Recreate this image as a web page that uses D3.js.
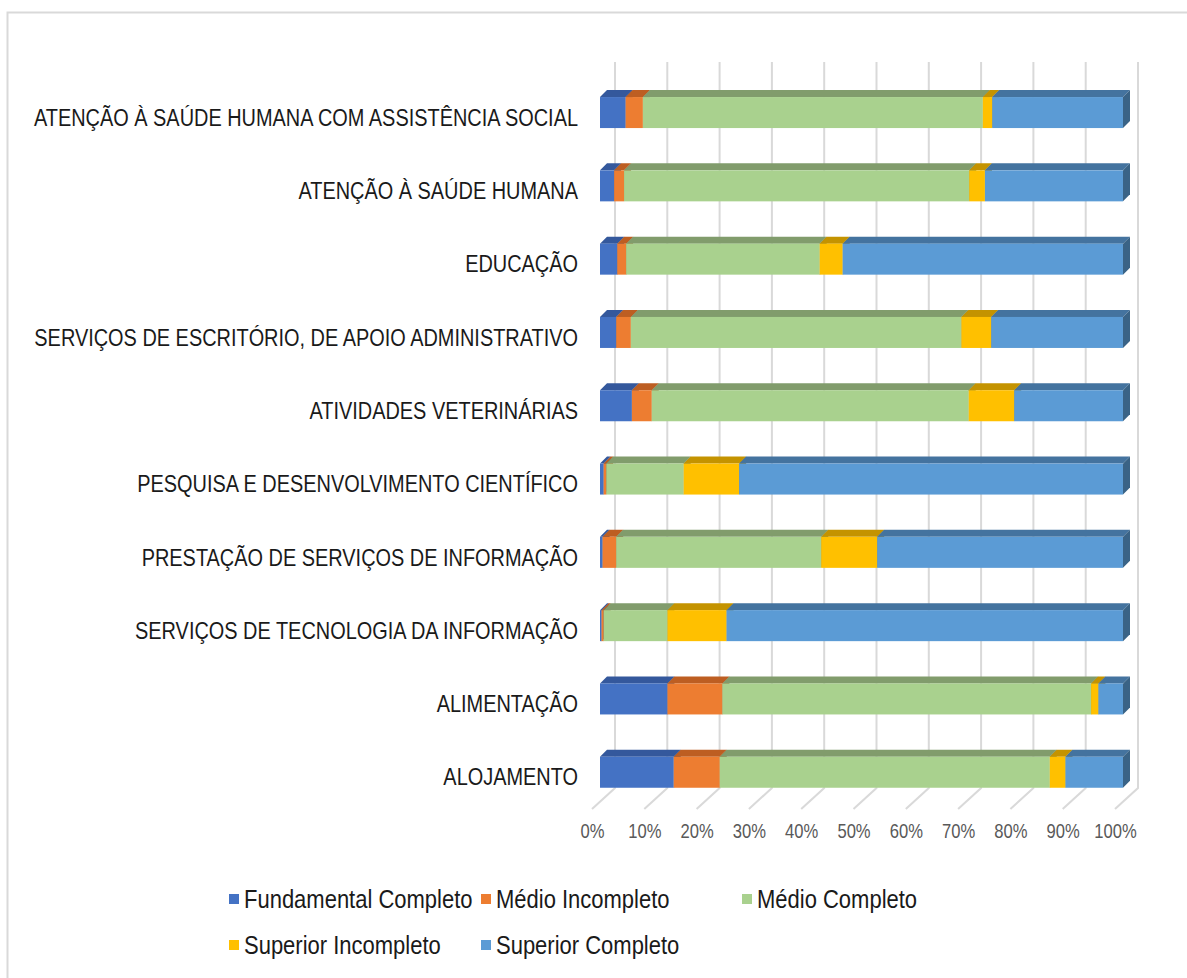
<!DOCTYPE html>
<html>
<head>
<meta charset="utf-8">
<script src="https://cdn.jsdelivr.net/npm/d3@7"></script>
<style>
    body { margin: 0; background: #ffffff; }
    svg { display: block; }
</style>
</head>
<body>
<div class="svg-container"></div>
<script>
let width = 1187;
let height = 978;

// categories, top to bottom
let categories = [
    "ATENÇÃO À SAÚDE HUMANA COM ASSISTÊNCIA SOCIAL",
    "ATENÇÃO À SAÚDE HUMANA",
    "EDUCAÇÃO",
    "SERVIÇOS DE ESCRITÓRIO, DE APOIO ADMINISTRATIVO ",
    "ATIVIDADES VETERINÁRIAS",
    "PESQUISA E DESENVOLVIMENTO CIENTÍFICO",
    "PRESTAÇÃO DE SERVIÇOS DE INFORMAÇÃO",
    "SERVIÇOS DE TECNOLOGIA DA INFORMAÇÃO",
    "ALIMENTAÇÃO",
    "ALOJAMENTO"
];

let seriesNames = [
    "Fundamental Completo",
    "Médio Incompleto",
    "Médio Completo",
    "Superior Incompleto",
    "Superior Completo"
];

// shares in percent, one value per category
let fundamentalCompleto = [4.9, 2.7, 3.3, 3.1, 6.1, 0.7, 0.5, 0.3, 12.9, 14.1];
let medioIncompleto     = [3.3, 1.9, 1.7, 2.8, 3.8, 0.5, 2.6, 0.4, 10.5, 8.8];
let medioCompleto       = [65.0, 66.0, 37.0, 63.2, 60.6, 14.8, 39.2, 12.2, 70.5, 63.1];
let superiorIncompleto  = [1.8, 3.0, 4.4, 5.7, 8.7, 10.6, 10.7, 11.3, 1.4, 3.0];
let superiorCompleto    = [25.0, 26.4, 53.6, 25.2, 20.8, 73.4, 47.0, 75.8, 4.7, 11.0];

let xTicks = [0, 10, 20, 30, 40, 50, 60, 70, 80, 90, 100];

let frontColors = ["#4472c4", "#ed7d31", "#a9d18e", "#ffc000", "#5b9bd5"];
let topColors   = ["#34589c", "#bd5e22", "#819c6c", "#c49300", "#44739f"];
let sideColors  = ["#2c4b85", "#a2501c", "#6e855c", "#a67c00", "#3a6386"];

let depth = 7;        // oblique offset of the bar tops and sides
let narrow = 0.83;    // no narrow font installed, so squeeze the text

let FONT = "'Liberation Sans', Arial, sans-serif";

/*************
 * DATA ROWS *
 *************/

function buildRows()
{
    let series = [fundamentalCompleto, medioIncompleto, medioCompleto, superiorIncompleto, superiorCompleto];
    return categories.map(function(c, i)
    {
        let row = {category: c};
        seriesNames.forEach(function(s, k) { row[s] = series[k][i]; });
        return row;
    });
}

/********
 * MAIN *
 ********/

function drawChart()
{
    let rows = buildRows();
    let stacked = d3.stack().keys(seriesNames)(rows);

    let svg = d3.select(".svg-container")
        .append("svg")
        .attr("width", width)
        .attr("height", height)
        .style("font-family", FONT);

    // chart frame (runs off the right and bottom of the picture)
    svg.append("rect")
        .attr("x", 7.5)
        .attr("y", 12.5)
        .attr("width", width + 20)
        .attr("height", height + 20)
        .attr("fill", "none")
        .attr("stroke", "#d9d9d9")
        .attr("stroke-width", 2);

    // front face of the bars, back wall and floor edge
    let x = d3.scaleLinear().domain([0, 100]).range([600, 1123]);
    let xWall = d3.scaleLinear().domain([0, 100]).range([615, 1138]);
    let xFloor = d3.scaleLinear().domain([0, 100]).range([592, 1115]);

    let y = d3.scaleBand()
        .domain(categories)
        .range([75.9, 808.9])
        .paddingInner(0.577)
        .paddingOuter(0.2885);

    let wallTop = 62;
    let wallBottom = 788;
    let floorFront = 809;

    // gridlines on the back wall and their floor diagonals
    let grid = svg.append("g").attr("class", "grid");
    grid.selectAll("path")
        .data(xTicks)
        .enter()
        .append("path")
        .attr("d", function(d)
        {
            return "M" + xWall(d) + "," + wallTop +
                   "L" + xWall(d) + "," + wallBottom +
                   "L" + xFloor(d) + "," + floorFront;
        })
        .attr("fill", "none")
        .attr("stroke", "#d9d9d9")
        .attr("stroke-width", 2);

    // percent axis along the floor
    let axis = svg.append("g")
        .attr("transform", "translate(0," + 831 + ")")
        .call(d3.axisBottom(xFloor)
            .tickValues(xTicks)
            .tickSize(0)
            .tickPadding(0)
            .tickFormat(function(d) { return d + "%"; }));

    axis.select(".domain").remove();
    axis.selectAll("text")
        .attr("fill", "#595959")
        .attr("y", 0)
        .attr("dy", null)
        .attr("dominant-baseline", "central")
        .attr("transform", "scale(" + narrow + ",1)")
        .style("font-size", "20px")
        .style("font-family", FONT);

    // category labels
    svg.append("g").attr("class", "labels")
        .selectAll("text")
        .data(categories)
        .enter()
        .append("text")
        .attr("transform", function(d)
        {
            return "translate(578," + (y(d) + y.bandwidth() / 2 + 5) + ") scale(" + narrow + ",1)";
        })
        .attr("text-anchor", "end")
        .attr("dominant-baseline", "central")
        .attr("fill", "#1a1a1a")
        .style("font-size", "24px")
        .text(function(d) { return d; });

    // 3d bar segments: top, right side and front of each piece
    let layers = svg.append("g").attr("class", "bars")
        .selectAll("g")
        .data(stacked)
        .enter()
        .append("g");

    let pieces = layers.selectAll("g")
        .data(function(s) { return s.map(function(p) { p.index = s.index; return p; }); })
        .enter()
        .append("g");

    pieces.append("path")
        .attr("d", function(p)
        {
            let x0 = x(p[0]), x1 = x(p[1]), t = y(p.data.category);
            return "M" + x0 + "," + t + "L" + (x0 + depth) + "," + (t - depth) +
                   "L" + (x1 + depth) + "," + (t - depth) + "L" + x1 + "," + t + "Z";
        })
        .attr("fill", function(p) { return topColors[p.index]; });

    pieces.append("path")
        .attr("d", function(p)
        {
            let x1 = x(p[1]), t = y(p.data.category), b = t + y.bandwidth();
            return "M" + x1 + "," + t + "L" + (x1 + depth) + "," + (t - depth) +
                   "L" + (x1 + depth) + "," + (b - depth) + "L" + x1 + "," + b + "Z";
        })
        .attr("fill", function(p) { return sideColors[p.index]; });

    pieces.append("rect")
        .attr("x", function(p) { return x(p[0]); })
        .attr("y", function(p) { return y(p.data.category); })
        .attr("width", function(p) { return x(p[1]) - x(p[0]); })
        .attr("height", y.bandwidth())
        .attr("fill", function(p) { return frontColors[p.index]; });

    // legend, two rows
    let legendPos = [[229, 899], [481, 899], [742, 899], [229, 945], [481, 945]];
    let legend = svg.append("g").attr("class", "legend")
        .selectAll("g")
        .data(seriesNames)
        .enter()
        .append("g")
        .attr("transform", function(d, i) { return "translate(" + legendPos[i][0] + "," + legendPos[i][1] + ")"; });

    legend.append("rect")
        .attr("x", 0)
        .attr("y", -5)
        .attr("width", 10)
        .attr("height", 10)
        .attr("fill", function(d, i) { return frontColors[i]; });

    legend.append("text")
        .attr("transform", "translate(15,0) scale(" + narrow + ",1)")
        .attr("dominant-baseline", "central")
        .attr("fill", "#1a1a1a")
        .style("font-size", "26.5px")
        .text(function(d) { return d; });
}

drawChart();
</script>
</body>
</html>
